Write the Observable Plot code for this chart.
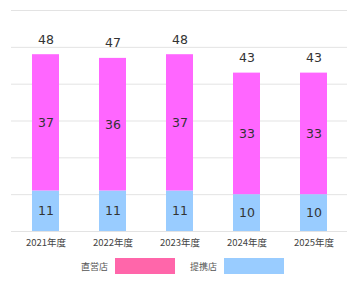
<!DOCTYPE html>
<html><head><meta charset="utf-8">
<script src="https://cdn.jsdelivr.net/npm/d3@7"></script>
<script src="https://cdn.jsdelivr.net/npm/@observablehq/plot@0.6"></script>
<style>
body{margin:0;background:#fff;font-family:"Noto Sans CJK JP","Noto Sans",sans-serif;}
#wrap{width:356px;}
.legend{display:flex;align-items:center;height:28px;padding-left:81px;box-sizing:border-box;font-size:9px;color:#555;}
.legend .sw{width:60px;height:16px;margin-left:7px;margin-right:15px;}
</style></head>
<body><div id="wrap"></div>
<script>
const years = ["2021年度","2022年度","2023年度","2024年度","2025年度"];
const direct = [37,36,37,33,33];
const partner = [11,11,11,10,10];
const totals = [48,47,48,43,43];
const seriesNames = ["提携店","直営店"];
const barColors = ["#99CCFF","#FF66FF"];
const legendNames = ["直営店","提携店"];
const legendColors = ["#FF66AA","#99CCFF"];
const gridTicks = [0,10,20,30,40,50,60];

const rows = years.flatMap((y,i)=>[
  {year:y,type:"提携店",value:partner[i]},
  {year:y,type:"直営店",value:direct[i]}
]);
const tot = years.map((y,i)=>({year:y,total:totals[i]}));
const numFont = '"DejaVu Sans","Noto Sans CJK JP",sans-serif';

const chart = Plot.plot({
  width:356, height:252,
  marginLeft:11, marginRight:9, marginTop:10, marginBottom:21,
  style:{fontFamily:'"Noto Sans CJK JP","Noto Sans",sans-serif', background:"#fff"},
  x:{domain:years, paddingInner:0.6, paddingOuter:0.3, label:null},
  y:{domain:[0,60], axis:null},
  color:{domain:seriesNames, range:barColors},
  marks:[
    Plot.gridY(gridTicks,{stroke:"#e3e3e3", strokeOpacity:1}),
    Plot.barY(rows,{x:"year", y:"value", fill:"type"}),
    Plot.textY(rows, Plot.stackY({x:"year", y:"value", text:"value", fontSize:12.5, fontFamily:numFont, fill:"#333"})),
    Plot.text(tot,{x:"year", y:"total", text:"total", dy:-15, fontSize:12.5, fontFamily:numFont, fill:"#333"}),
    Plot.axisX({tickSize:0, tickPadding:8, fontSize:9.5, color:"#444"})
  ]
});
const wrap = document.getElementById("wrap");
wrap.appendChild(chart);
const leg = document.createElement("div");
leg.className = "legend";
legendNames.forEach((n,i)=>{
  const t=document.createElement("span"); t.textContent=n; leg.appendChild(t);
  const s=document.createElement("span"); s.className="sw"; s.style.background=legendColors[i]; leg.appendChild(s);
});
wrap.appendChild(leg);
</script></body></html>
